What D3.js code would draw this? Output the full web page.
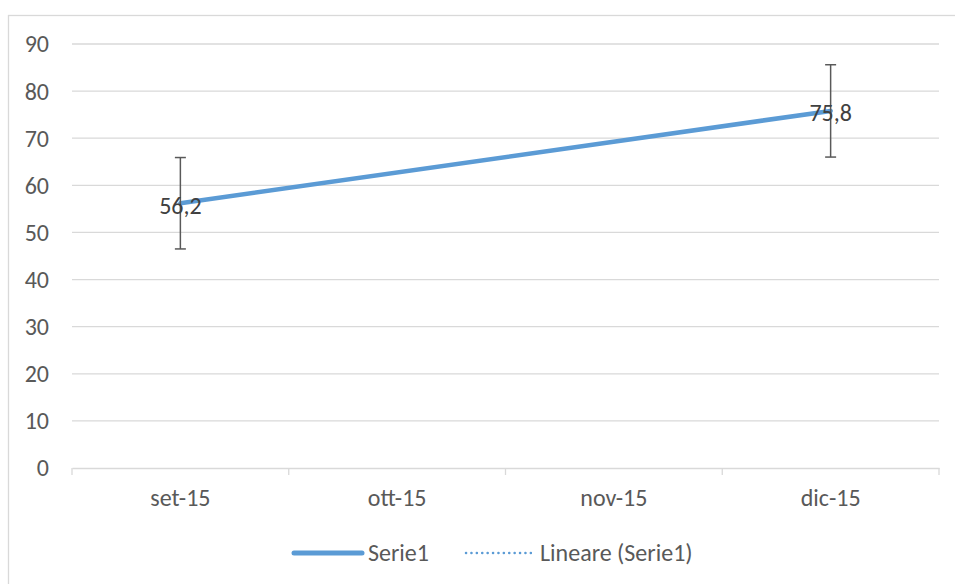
<!DOCTYPE html>
<html>
<head>
<meta charset="utf-8">
<script src="https://cdn.jsdelivr.net/npm/d3@7"></script>
<style>
  body { margin: 0; background: #fff; }
  svg { display: block; font-family: Carlito, "Open Sans", "Liberation Sans", sans-serif; }
</style>
</head>
<body>
<div id="chart"></div>
<script>
// months on the x axis, values only for first and last
const categories = ["set-15", "ott-15", "nov-15", "dic-15"];
const values = [56.2, null, null, 75.8];
const errors = [9.7, null, null, 9.8];
const yTicks = [0, 10, 20, 30, 40, 50, 60, 70, 80, 90];
const seriesName = "Serie1";
const trendName = "Lineare (Serie1)";

const width = 955, height = 584;
const blue = "#5b9bd5";
const textColor = "#595959";
const fs = "24px";

const svg = d3.select("#chart").append("svg")
    .attr("width", width)
    .attr("height", height);

// chart area border (runs off the right and bottom edge)
svg.append("rect")
    .attr("x", 8.5).attr("y", 15.5)
    .attr("width", 1000).attr("height", 1000)
    .attr("fill", "none")
    .attr("stroke", "#d9d9d9")
    .attr("stroke-width", 1.3);

const x = d3.scaleBand()
    .domain(categories)
    .range([72, 939]);

const y = d3.scaleLinear()
    .domain([0, 90])
    .range([468, 44]);

// gridlines
svg.append("g")
    .selectAll("line")
    .data(yTicks.filter(d => d > 0))
    .enter().append("line")
    .attr("x1", 72).attr("x2", 939)
    .attr("y1", d => y(d)).attr("y2", d => y(d))
    .attr("stroke", "#d9d9d9")
    .attr("stroke-width", 1.3);

// y axis labels
svg.append("g")
    .selectAll("text")
    .data(yTicks)
    .enter().append("text")
    .attr("x", 49)
    .attr("y", d => y(d))
    .attr("dy", "0.35em")
    .attr("text-anchor", "end")
    .attr("fill", textColor)
    .style("font-size", fs)
    .text(d => d);

// x axis
const xAxis = svg.append("g")
    .attr("transform", `translate(0,${y(0)})`)
    .call(d3.axisBottom(x).tickSize(0).tickPadding(0));
xAxis.select(".domain").attr("stroke", "#d9d9d9").attr("stroke-width", 1.3);
xAxis.selectAll("text")
    .attr("y", 30)
    .attr("dy", "0.35em")
    .attr("fill", textColor)
    .style("font-size", fs)
    .style("font-family", "Carlito, 'Open Sans', 'Liberation Sans', sans-serif");

// category boundary ticks
const bounds = categories.map(c => x(c)).concat([x.range()[1]]);
svg.append("g")
    .selectAll("line")
    .data(bounds)
    .enter().append("line")
    .attr("x1", d => d).attr("x2", d => d)
    .attr("y1", y(0)).attr("y2", y(0) + 7)
    .attr("stroke", "#d9d9d9")
    .attr("stroke-width", 1.3);

const cx = c => x(c) + x.bandwidth() / 2;
const points = categories.map((c, i) => ({ cat: c, i: i, v: values[i], e: errors[i] }))
    .filter(d => d.v != null);

// linear trendline from points (by category index)
const n = points.length;
const mx = d3.mean(points, d => d.i), my = d3.mean(points, d => d.v);
const slope = d3.sum(points, d => (d.i - mx) * (d.v - my)) / d3.sum(points, d => (d.i - mx) ** 2);
const icpt = my - slope * mx;
const iToX = i => cx(categories[0]) + i * x.step();
svg.append("line")
    .attr("x1", iToX(points[0].i)).attr("y1", y(icpt + slope * points[0].i))
    .attr("x2", iToX(points[n - 1].i)).attr("y2", y(icpt + slope * points[n - 1].i))
    .attr("stroke", blue)
    .attr("stroke-width", 2.5)
    .attr("stroke-dasharray", "2,4")
    .attr("stroke-linecap", "round");

// main series line (gaps connected)
const line = d3.line()
    .x(d => cx(d.cat))
    .y(d => y(d.v));
svg.append("path")
    .datum(points)
    .attr("d", line)
    .attr("fill", "none")
    .attr("stroke", blue)
    .attr("stroke-width", 4.5)
    .attr("stroke-linecap", "round");

// error bars
const eb = svg.append("g")
    .attr("stroke", "#595959")
    .attr("stroke-width", 1.5);
points.forEach(d => {
    const px = cx(d.cat);
    eb.append("line").attr("x1", px).attr("x2", px).attr("y1", y(d.v + d.e)).attr("y2", y(d.v - d.e));
    eb.append("line").attr("x1", px - 5.5).attr("x2", px + 5.5).attr("y1", y(d.v + d.e)).attr("y2", y(d.v + d.e));
    eb.append("line").attr("x1", px - 5.5).attr("x2", px + 5.5).attr("y1", y(d.v - d.e)).attr("y2", y(d.v - d.e));
});

// data labels
svg.append("g")
    .selectAll("text")
    .data(points)
    .enter().append("text")
    .attr("x", d => cx(d.cat))
    .attr("y", d => y(d.v) + 2)
    .attr("dy", "0.35em")
    .attr("text-anchor", "middle")
    .attr("fill", "#404040")
    .style("font-size", fs)
    .text(d => String(d.v).replace(".", ","));

// legend
const legY = 553;
svg.append("line")
    .attr("x1", 294).attr("x2", 362)
    .attr("y1", legY).attr("y2", legY)
    .attr("stroke", blue).attr("stroke-width", 5)
    .attr("stroke-linecap", "round");
svg.append("text")
    .attr("x", 368).attr("y", legY).attr("dy", "0.35em")
    .attr("fill", textColor).style("font-size", fs)
    .text(seriesName);
svg.append("line")
    .attr("x1", 466).attr("x2", 531)
    .attr("y1", legY).attr("y2", legY)
    .attr("stroke", blue).attr("stroke-width", 2.5)
    .attr("stroke-dasharray", "0.1,5.3")
    .attr("stroke-linecap", "round");
svg.append("text")
    .attr("x", 540).attr("y", legY).attr("dy", "0.35em")
    .attr("fill", textColor).style("font-size", fs)
    .text(trendName);
</script>
</body>
</html>
